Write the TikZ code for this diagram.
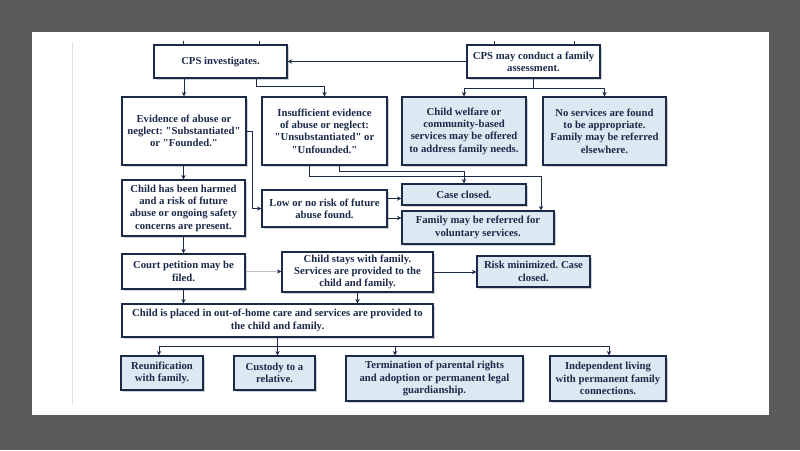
\documentclass[tikz,border=0pt]{standalone}
\usepackage{fontspec}
\setmainfont{Liberation Serif}
\usetikzlibrary{arrows.meta,shadows,calc}
\definecolor{navy}{HTML}{1C2A4A}
\definecolor{lblue}{HTML}{DCE8F2}
\definecolor{bgray}{HTML}{5A5A5A}
\newcommand{\qq}{\textquotedbl}
\frenchspacing
\begin{document}
\begin{tikzpicture}[x=1pt,y=-1pt,
  box/.style={draw=navy, line width=1.1pt, fill=white, text=navy,
    font=\fontsize{10.7}{12.3}\selectfont\bfseries, align=center, inner sep=0pt,
    drop shadow={shadow xshift=2pt, shadow yshift=-2pt, fill=black!40, opacity=0.45}},
  bbox/.style={box, fill=lblue},
  arr/.style={draw=navy, line width=0.9pt, -{Stealth[length=4.5pt,width=4.5pt]}},
  ln/.style={draw=navy, line width=0.9pt},
  tick/.style={draw=navy, line width=0.8pt},
]
\useasboundingbox (0,0) rectangle (800,450);
\fill[bgray] (0,0) rectangle (800,450);
\fill[white] (32,32) rectangle (769,415);
\draw[black!12, line width=0.8pt] (72.5,42) -- (72.5,405);

% row 1
\node[box, minimum width=133pt, minimum height=33pt] (inv) at (220.5,61.5) {CPS investigates.};
\node[box, minimum width=133pt, minimum height=33pt] (asmt) at (533.5,61.5) {CPS may conduct a family\\assessment.};
% row 2
\node[box, minimum width=124pt, minimum height=68pt] (ev) at (184,131) {Evidence of abuse or\\neglect: \qq Substantiated\qq\\or \qq Founded.\qq};
\node[box, minimum width=125pt, minimum height=68pt] (ins) at (324.5,131) {Insufficient evidence\\of abuse or neglect:\\\qq Unsubstantiated\qq{} or\\\qq Unfounded.\qq};
\node[bbox, minimum width=124pt, minimum height=68pt] (cw) at (464,131) {Child welfare or\\community-based\\services may be offered\\to address family needs.};
\node[bbox, minimum width=123pt, minimum height=68pt] (ns) at (604.5,131) {No services are found\\to be appropriate.\\Family may be referred\\elsewhere.};
% row 3
\node[box, minimum width=123pt, minimum height=56pt] (harm) at (183.5,208) {Child has been harmed\\and a risk of future\\abuse or ongoing safety\\concerns are present.};
\node[box, minimum width=125pt, minimum height=37pt] (lr) at (324.5,208.5) {Low or no risk of future\\abuse found.};
\node[bbox, minimum width=124pt, minimum height=21pt] (cc) at (464,194.5) {Case closed.};
\node[bbox, minimum width=152pt, minimum height=33pt] (fam) at (478,227.5) {Family may be referred for\\voluntary services.};
% row 4
\node[box, minimum width=123pt, minimum height=35pt] (court) at (183.5,271.5) {Court petition may be\\filed.};
\node[box, minimum width=151pt, minimum height=40pt] (stays) at (357.5,272) {Child stays with family.\\Services are provided to the\\child and family.};
\node[bbox, minimum width=113pt, minimum height=31pt] (risk) at (533.5,271.5) {Risk minimized. Case\\closed.};
% row 5
\node[box, minimum width=311pt, minimum height=33pt] (placed) at (277.5,320.5) {Child is placed in out-of-home care and services are provided to\\the child and family.};
% row 6
\node[bbox, minimum width=82pt, minimum height=34pt] (reu) at (162,373) {Reunification\\with family.};
\node[bbox, minimum width=81pt, minimum height=34pt] (cus) at (274.5,373) {Custody to a\\relative.};
\node[bbox, minimum width=177pt, minimum height=45pt] (term) at (434.5,378.5) {Termination of parental rights\\and adoption or permanent legal\\guardianship.};
\node[bbox, minimum width=116pt, minimum height=45pt] (ind) at (608,378.5) {Independent living\\with permanent family\\connections.};

% top ticks
\draw[tick] ([xshift=-37.5pt]inv.north) -- ++(0,-3.5);
\draw[tick] ([xshift=38.5pt]inv.north) -- ++(0,-3.5);
\draw[tick] ([xshift=-39.5pt]asmt.north) -- ++(0,-3.5);
\draw[tick] ([xshift=40.5pt]asmt.north) -- ++(0,-3.5);

% connectors
\draw[arr] (asmt.west) -- (inv.east);
\draw[arr] (inv.south -| ev.north) -- (ev.north);
\draw[arr] ([xshift=35.5pt]inv.south) -- ++(0,8) -| (ins.north);
\draw[arr] (asmt.south) -- ++(0,10) -| (cw.north);
\draw[arr] (asmt.south) -- ++(0,10) -| (ns.north);

\draw[arr] (ev.east) -- ++(6,0) |- (lr.west);
\draw[arr] (ev.south -| harm.north) -- (harm.north);
\draw[arr] ([xshift=-15.5pt]ins.south) -- ++(0,11) -| ([xshift=63pt]fam.north);
\draw[arr] ([xshift=14.5pt]ins.south) -- ++(0,6) -| (cc.north);
\draw[arr] ([yshift=10pt]lr.east) -- ([yshift=10pt]lr.east -| cc.west);
\draw[arr] ([yshift=-9.5pt]lr.east) -- ([yshift=-9.5pt]lr.east -| fam.west);

\draw[arr] (harm.south) -- (court.north);
\draw[draw=black!25, line width=0.9pt, -{Stealth[length=4.5pt,width=4.5pt,color=navy]}] (court.east) -- (court.east -| stays.west);
\draw[arr] (stays.east) -- (stays.east -| risk.west);
\draw[arr] (court.south) -- (court.south |- placed.north);
\draw[arr] (stays.south) -- (stays.south |- placed.north);

\draw[ln] (placed.south) -- ++(0,8.5) coordinate (hub);
\draw[arr] (hub) -| ([xshift=-3pt]reu.north);
\draw[arr] (hub) -- (hub |- cus.north);
\draw[arr] (hub) -| ([xshift=-39.5pt]term.north);
\draw[arr] (hub) -| ([xshift=1pt]ind.north);
\end{tikzpicture}
\end{document}
